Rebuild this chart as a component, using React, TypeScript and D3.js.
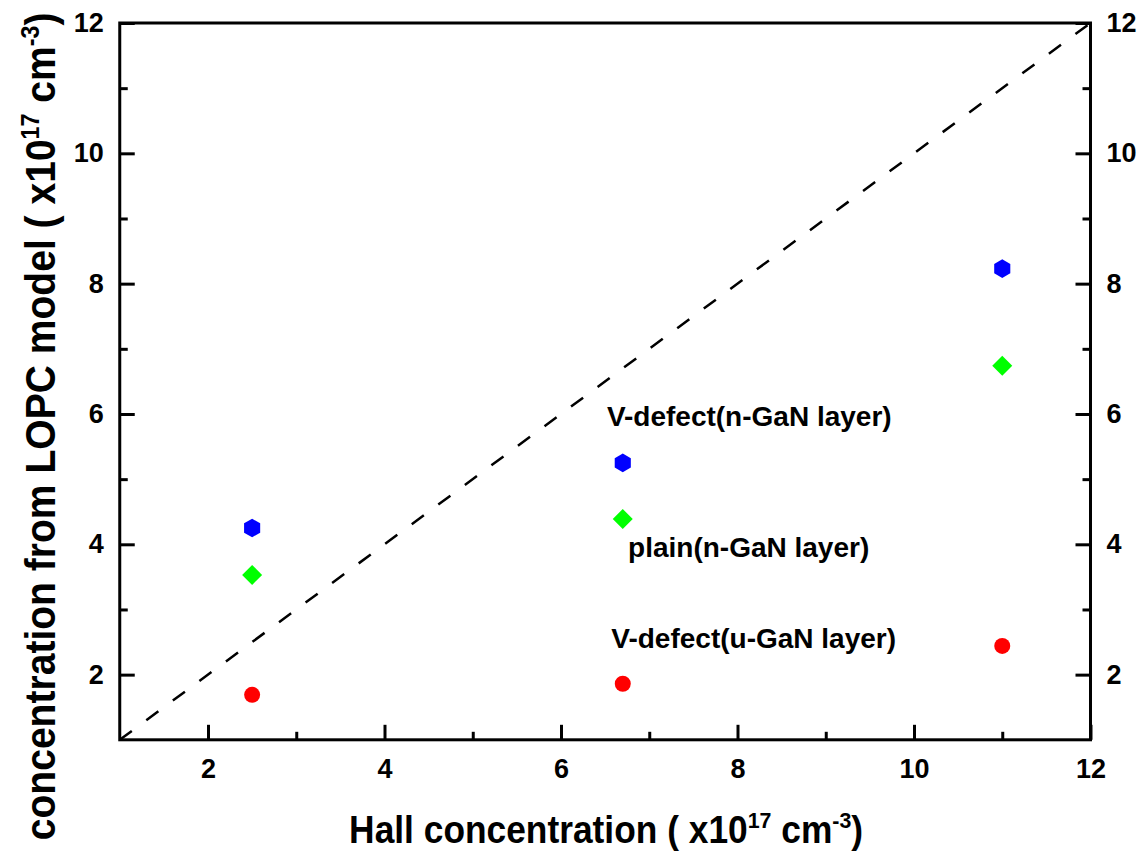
import React, { useEffect, useRef } from "react";
import * as d3 from "d3";

// Hall concentration (x10^17 cm^-3) of the three samples
const hallX = [2.5, 6.7, 11];
// concentration from LOPC model (x10^17 cm^-3)
const vDefectN = [4.25, 5.25, 8.23];
const plainN = [3.53, 4.39, 6.74];
const vDefectU = [1.69, 1.86, 2.44];

const majorTicks = [2, 4, 6, 8, 10, 12];
const minorTicks = [3, 5, 7, 9, 11];
const seriesNames = ["V-defect(n-GaN layer)", "plain(n-GaN layer)", "V-defect(u-GaN layer)"];

const W = 1146, H = 856;
const margin = { top: 23, right: 55.5, bottom: 116.2, left: 119.75 };
const width = W - margin.left - margin.right;
const height = H - margin.top - margin.bottom;
const FONT = "'Liberation Sans', Arial, sans-serif";

export default function App() {
  const bottomRef = useRef<SVGGElement>(null);
  const leftRef = useRef<SVGGElement>(null);
  const rightRef = useRef<SVGGElement>(null);

  const x = d3.scaleLinear().domain([1, 12]).range([0, width]);
  const y = d3.scaleLinear().domain([1, 12]).range([height, 0]);

  useEffect(() => {
    document.body.style.margin = "0";
    const style = (g: d3.Selection<SVGGElement, unknown, null, undefined>) => {
      g.attr("font-family", FONT).attr("font-size", 27).attr("font-weight", "bold");
      g.select(".domain").remove();
      g.selectAll("line").attr("stroke", "#000").attr("stroke-width", 3);
      g.selectAll("text").attr("fill", "#000");
    };
    const b = d3.select(bottomRef.current!);
    b.selectAll("*").remove();
    b.append("g").call(d3.axisBottom(x).tickValues(majorTicks).tickSize(-15).tickPadding(19).tickFormat(d3.format("d"))).call(style);
    b.append("g").call(d3.axisBottom(x).tickValues(minorTicks).tickSize(-8).tickFormat(() => "")).call(style);

    const l = d3.select(leftRef.current!);
    l.selectAll("*").remove();
    l.append("g").call(d3.axisLeft(y).tickValues(majorTicks).tickSize(-15).tickPadding(16).tickFormat(d3.format("d"))).call(style);
    l.append("g").call(d3.axisLeft(y).tickValues(minorTicks).tickSize(-8).tickFormat(() => "")).call(style);

    const r = d3.select(rightRef.current!);
    r.selectAll("*").remove();
    r.append("g").call(d3.axisRight(y).tickValues(majorTicks).tickSize(-15).tickPadding(16).tickFormat(d3.format("d"))).call(style);
    r.append("g").call(d3.axisRight(y).tickValues(minorTicks).tickSize(-8).tickFormat(() => "")).call(style);
  }, []);

  const hexPath = (cx: number, cy: number, rr: number) =>
    d3.range(6).map((i) => {
      const a = (Math.PI / 3) * i - Math.PI / 2;
      return [cx + rr * Math.cos(a), cy + rr * Math.sin(a)];
    }).map((p, i) => `${i ? "L" : "M"}${p[0]},${p[1]}`).join("") + "Z";

  const diamondPath = (cx: number, cy: number, rr: number) =>
    `M${cx},${cy - rr}L${cx + rr},${cy}L${cx},${cy + rr}L${cx - rr},${cy}Z`;

  const diag = d3.line<number>().x((d) => x(d)).y((d) => y(d));

  const labelStyle = { fontFamily: FONT, fontSize: 28, fontWeight: "bold" as const };

  return (
    <svg width={W} height={H} style={{ display: "block", background: "#fff" }}>
      <g transform={`translate(${margin.left},${margin.top})`}>
        <path d={diag([1, 12])!} fill="none" stroke="#000" strokeWidth={2.5} strokeDasharray="15,18" />
        {hallX.map((d, i) => (
          <path key={`h${i}`} d={hexPath(x(d), y(vDefectN[i]), 9.3)} fill="#0000ff" />
        ))}
        {hallX.map((d, i) => (
          <path key={`d${i}`} d={diamondPath(x(d), y(plainN[i]), 10)} fill="#00ff00" />
        ))}
        {hallX.map((d, i) => (
          <circle key={`c${i}`} cx={x(d)} cy={y(vDefectU[i])} r={8} fill="#ff0000" />
        ))}
        <text x={x(6.52)} y={y(5.815)} style={labelStyle}>{seriesNames[0]}</text>
        <text x={x(6.76)} y={y(3.805)} style={labelStyle}>{seriesNames[1]}</text>
        <text x={x(6.57)} y={y(2.41)} style={labelStyle}>{seriesNames[2]}</text>

        <g ref={bottomRef} transform={`translate(0,${height})`} />
        <g ref={leftRef} />
        <g ref={rightRef} transform={`translate(${width},0)`} />
        <rect x={0} y={0} width={width} height={height} fill="none" stroke="#000" strokeWidth={3} />

        <text
          transform={`translate(${width / 2 + 1},${height + 103}) scale(0.93,1)`}
          textAnchor="middle"
          style={{ fontFamily: FONT, fontSize: 38, fontWeight: "bold" }}
        >
          Hall concentration ( x10<tspan dy={-15} fontSize={23}>17</tspan>
          <tspan dy={15}> cm</tspan><tspan dy={-15} fontSize={23}>-3</tspan><tspan dy={15}>)</tspan>
        </text>
        <text
          transform={`translate(${-65},${height / 2 + 45}) rotate(-90) scale(0.93,1)`}
          textAnchor="middle"
          style={{ fontFamily: FONT, fontSize: 42, fontWeight: "bold" }}
        >
          concentration from LOPC model ( x10<tspan dy={-16} fontSize={25}>17</tspan>
          <tspan dy={16}> cm</tspan><tspan dy={-16} fontSize={25}>-3</tspan><tspan dy={16}>)</tspan>
        </text>
      </g>
    </svg>
  );
}
